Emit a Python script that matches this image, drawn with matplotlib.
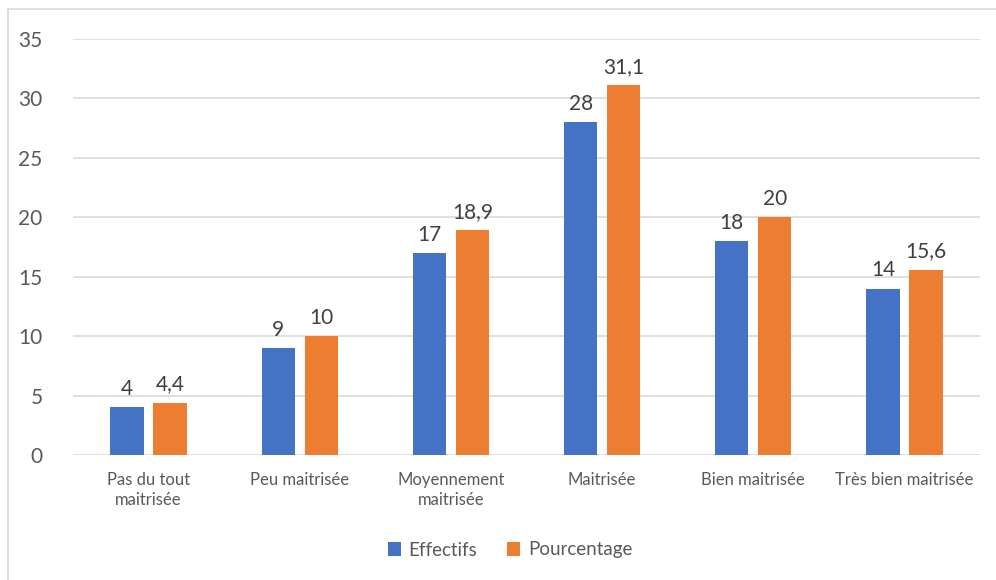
import numpy as np
import matplotlib.pyplot as plt
from matplotlib.patches import Rectangle

categories = ["Pas du tout\nmaitrisée", "Peu maitrisée", "Moyennement\nmaitrisée",
              "Maitrisée", "Bien maitrisée", "Très bien maitrisée"]
effectifs = [4, 9, 17, 28, 18, 14]
pourcentage = [4.4, 10, 18.9, 31.1, 20, 15.6]
yticks = [0, 5, 10, 15, 20, 25, 30, 35]

plt.rcParams['font.family'] = ['Lato', 'DejaVu Sans']
txt = '#595959'

fig = plt.figure(figsize=(9.96, 5.80), dpi=100)
fig.patches.append(Rectangle((8 / 996, -0.1), 1.2, 1 - 9 / 580 + 0.1,
                             transform=fig.transFigure, fill=False,
                             edgecolor='#D9D9D9', linewidth=1.2))
ax = fig.add_axes([73 / 996, 1 - 455 / 580, (980 - 73) / 996, (455 - 39) / 580])

x = np.arange(len(categories))
w = 0.22
off = 0.142
b1 = ax.bar(x - off, effectifs, w, color='#4472C4', label='Effectifs', zorder=3)
b2 = ax.bar(x + off, pourcentage, w, color='#ED7D31', label='Pourcentage', zorder=3)

for bars, vals in ((b1, effectifs), (b2, pourcentage)):
    for bar, v in zip(bars, vals):
        lab = str(v).replace('.', ',')
        ax.annotate(lab, (bar.get_x() + bar.get_width() / 2, v),
                    xytext=(0, 6), textcoords='offset points',
                    ha='center', va='bottom', fontsize=15, color='#404040')

ax.set_xlim(-0.5, len(categories) - 0.5)
ax.set_ylim(0, 35)
ax.set_yticks(yticks)
ax.set_xticks(x)
ax.set_xticklabels(categories, fontsize=12, color=txt, linespacing=1.3)
ax.tick_params(axis='y', labelsize=15, labelcolor=txt, length=0, pad=22)
ax.tick_params(axis='x', length=0, pad=12)
ax.grid(axis='y', color='#D9D9D9', linewidth=1.2, zorder=0)
for s in ax.spines.values():
    s.set_visible(False)

fig.legend(loc='center', bbox_to_anchor=(510 / 996, 1 - 550 / 580), ncol=2,
           frameon=False, fontsize=13.5, labelcolor=txt, handlelength=0.7,
           handleheight=0.7, handletextpad=0.4, columnspacing=1.6)

plt.savefig('out.png', dpi=100)
